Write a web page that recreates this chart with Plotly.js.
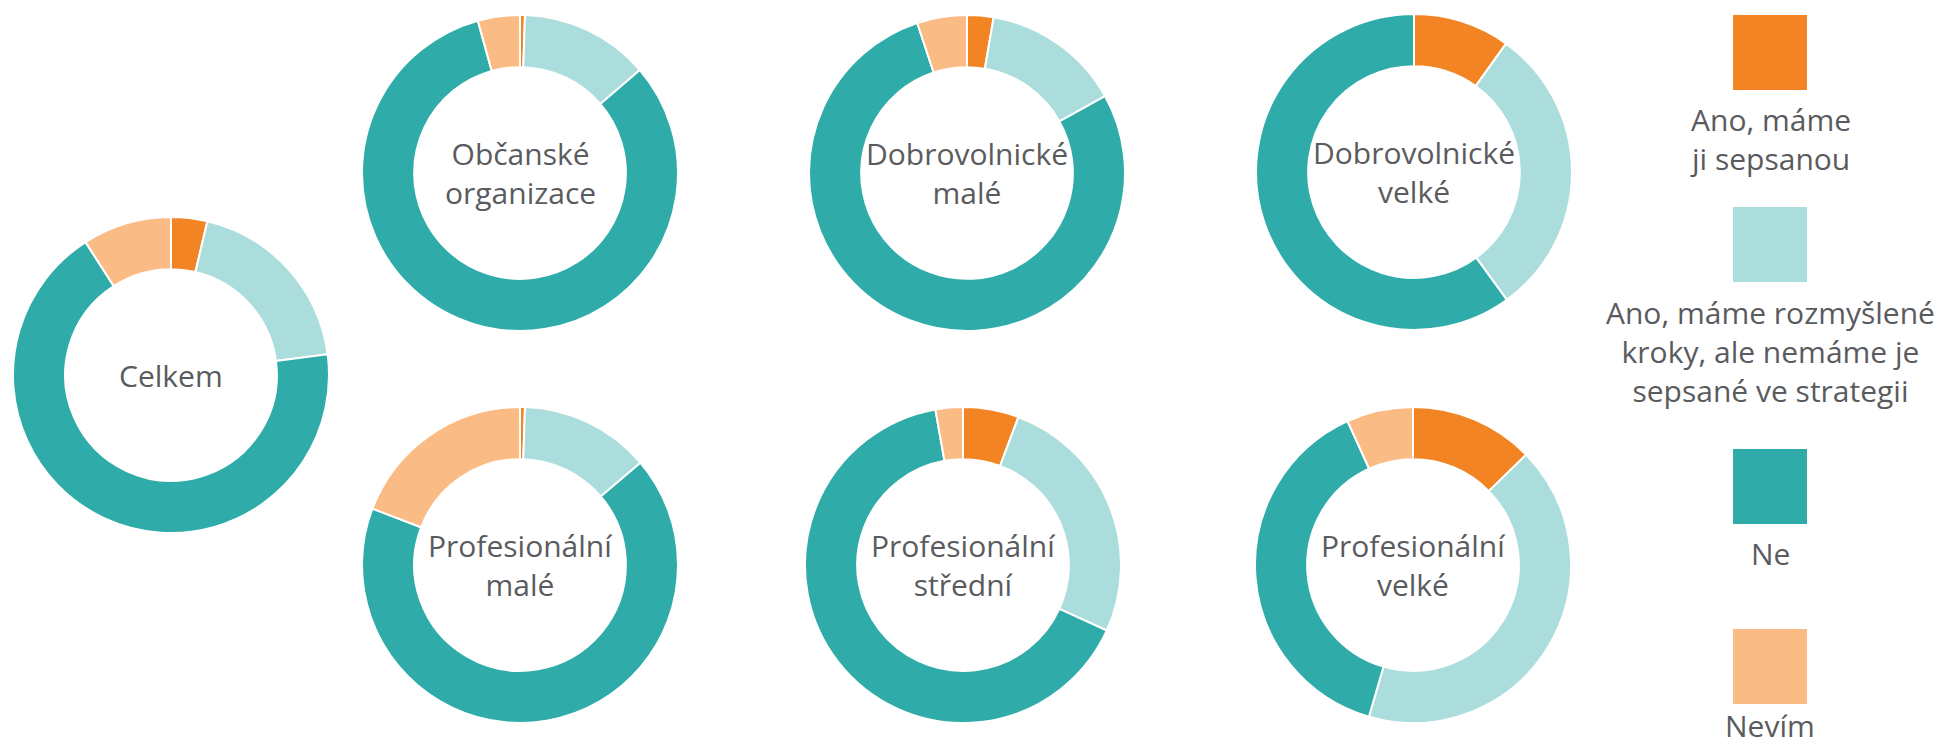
<!DOCTYPE html>
<html>
<head>
<meta charset="utf-8">
<script src="https://cdn.plot.ly/plotly-3.0.1.min.js"></script>
<style>
  html, body { margin: 0; padding: 0; background: #fff; }
  #chart { width: 1957px; height: 747px; }
</style>
</head>
<body>
<div id="chart"></div>
<script>
// answer categories (legend order, also slice order clockwise from 12 o'clock)
const categories = [
  'Ano, máme ji sepsanou',
  'Ano, máme rozmyšlené kroky, ale nemáme je sepsané ve strategii',
  'Ne',
  'Nevím'
];
const legendLabels = [
  'Ano, máme<br>ji sepsanou',
  'Ano, máme rozmyšlené<br>kroky, ale nemáme je<br>sepsané ve strategii',
  'Ne',
  'Nevím'
];
const colors = ['#F28424', '#AADDDC', '#2FACA9', '#FABB85'];

// groups (one donut each)
const groups = [
  'Celkem',
  'Občanské<br>organizace',
  'Dobrovolnické<br>malé',
  'Dobrovolnické<br>velké',
  'Profesionální<br>malé',
  'Profesionální<br>střední',
  'Profesionální<br>velké'
];

// shares in % per group
const anoSepsanou = [3.7, 0.5, 2.7, 9.9, 0.5, 5.7, 12.7];
const anoKroky = [19.2, 13.2, 14.2, 30.1, 13.3, 26.1, 41.8];
const ne = [68.0, 82.0, 78.0, 60.0, 67.0, 65.4, 38.7];
const nevim = [9.1, 4.3, 5.1, 0, 19.2, 2.8, 6.8];

const W = 1957;
const H = 747;
const R = 158;
const textColor = '#5a5b5e';
const fontFamily = '"Open Sans", "Noto Sans", sans-serif';

// donut centres in pixels
const centres = [
  [171, 375],
  [520, 173],
  [967, 173],
  [1414, 172],
  [520, 565],
  [963, 565],
  [1413, 565]
];

const px = (x) => x / W;
const py = (y) => 1 - y / H;

const data = groups.map(function (g, i) {
  const c = centres[i];
  return {
    type: 'pie',
    labels: categories,
    values: [anoSepsanou[i], anoKroky[i], ne[i], nevim[i]],
    hole: 0.67,
    sort: false,
    direction: 'clockwise',
    rotation: 0,
    textinfo: 'none',
    hoverinfo: 'none',
    marker: { colors: colors, line: { color: '#ffffff', width: 2 } },
    domain: {
      x: [px(c[0] - R), px(c[0] + R)],
      y: [py(c[1] + R), py(c[1] - R)]
    },
    showlegend: false
  };
});

const annotations = groups.map(function (g, i) {
  return {
    text: g,
    xref: 'paper',
    yref: 'paper',
    x: px(centres[i][0]),
    y: py(centres[i][1]),
    xanchor: 'center',
    yanchor: 'middle',
    showarrow: false,
    font: { family: fontFamily, size: 30, color: textColor }
  };
});

// hand-made legend: square above its label
const legendX = 1770;
const squareTops = [15, 207, 449, 629];
const labelMids = [139, 351, 553, 725];
const shapes = [];
legendLabels.forEach(function (lab, i) {
  shapes.push({
    type: 'rect',
    xref: 'paper',
    yref: 'paper',
    x0: px(legendX - 37),
    x1: px(legendX + 37),
    y0: py(squareTops[i] + 75),
    y1: py(squareTops[i]),
    fillcolor: colors[i],
    line: { width: 0 }
  });
  annotations.push({
    text: lab,
    xref: 'paper',
    yref: 'paper',
    x: px(legendX),
    y: py(labelMids[i]),
    xanchor: 'center',
    yanchor: 'middle',
    showarrow: false,
    font: { family: fontFamily, size: 30, color: textColor }
  });
});

Plotly.newPlot('chart', data, {
  width: W,
  height: H,
  margin: { l: 0, r: 0, t: 0, b: 0 },
  paper_bgcolor: '#ffffff',
  plot_bgcolor: '#ffffff',
  annotations: annotations,
  shapes: shapes
}, { displayModeBar: false, staticPlot: true });
</script>
</body>
</html>
